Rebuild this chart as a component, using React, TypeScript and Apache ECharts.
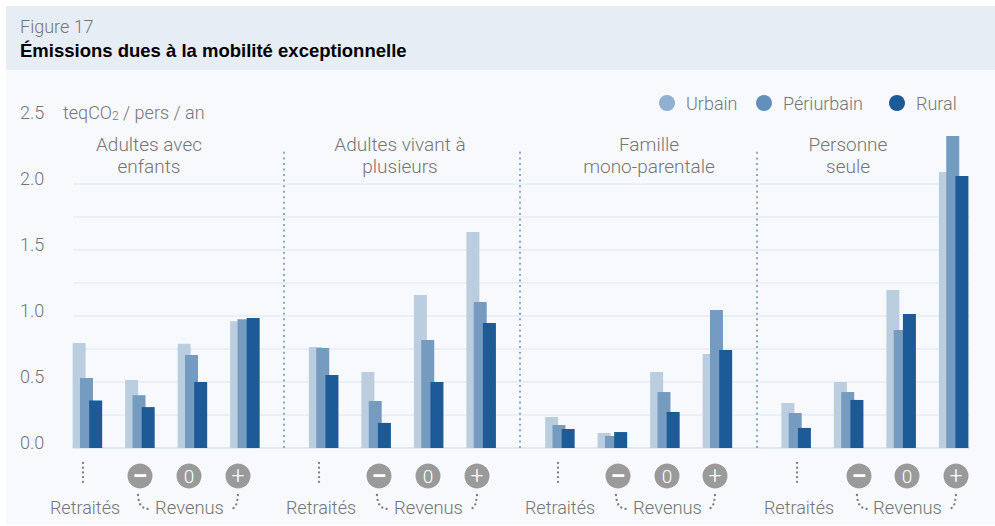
import React, { useEffect, useRef } from "react";
import * as echarts from "echarts";

const seriesNames = ["Urbain", "Périurbain", "Rural"];
const groupTitles = ["Adultes avec\nenfants", "Adultes vivant à\nplusieurs", "Famille\nmono-parentale", "Personne\nseule"];
const yTicks = ["0.0", "0.5", "1.0", "1.5", "2.0", "2.5"];
const gridValues = [0.25, 0.5, 0.75, 1, 1.25, 1.5, 1.75, 2];

// Slot of each bar cluster on the x scale: four clusters per household type
const slots = [0, 1, 2, 3, 4.5, 5.5, 6.5, 7.5, 9, 10, 11, 12, 13.5, 14.5, 15.5, 16.5];
const seriesShift = [-0.14, 0, 0.175];
const dividers = [3.76, 8.26, 12.76];

const urbain = [0.795, 0.515, 0.79, 0.96, 0.765, 0.576, 1.159, 1.636, 0.235, 0.114, 0.576, 0.712, 0.341, 0.5, 1.197, 2.09];
const periurbain = [0.53, 0.4, 0.705, 0.975, 0.757, 0.356, 0.818, 1.106, 0.174, 0.091, 0.424, 1.045, 0.265, 0.424, 0.894, 2.364];
const rural = [0.36, 0.31, 0.5, 0.985, 0.553, 0.19, 0.5, 0.947, 0.144, 0.121, 0.273, 0.742, 0.152, 0.364, 1.015, 2.06];

const barColors = ["#bacee0", "#769bc1", "#1c5b98"];
const legendColors = ["#8fb0d2", "#638fbb", "#1c5b98"];
const FONT = "Roboto, 'Liberation Sans', Arial, sans-serif";
const BOLD = "'Liberation Sans', Arial, sans-serif";
const WEIGHT = 300;
const GREY = "#757575";

const titleCenters = [149, 400, 649, 848];
const retraitesDots = [83, 319, 558, 797];
const retraitesText = [85, 321, 560, 799];
const revenusCenters = [189.5, 428.5, 667.5, 907.5];
const badgeCenters = [
  [140, 189, 238],
  [379, 428, 477],
  [618, 667, 715],
  [859, 907, 956],
];
const badgeSigns = ["–", "0", "+"];

function text(x: number, y: number, t: string, extra: any = {}) {
  return {
    type: "text",
    x,
    y,
    silent: true,
    style: {
      text: t,
      fontFamily: FONT,
      fontWeight: WEIGHT,
      fontSize: 18,
      fill: GREY,
      textAlign: "center",
      textVerticalAlign: "middle",
      ...extra,
    },
  };
}

const dotted = { stroke: "#808080", lineWidth: 2.3, lineDash: [0.1, 4.6], lineCap: "round", fill: "none" };

function buildGraphics() {
  const out: any[] = [
    { type: "rect", z: -10, silent: true, shape: { x: 6, y: 6, width: 989, height: 519 }, style: { fill: "#f7f9fd" } },
    { type: "rect", z: -9, silent: true, shape: { x: 6, y: 6, width: 989, height: 64 }, style: { fill: "#e7edf4" } },
    text(20, 26.5, "Figure 17", { textAlign: "left" }),
    text(20, 50, "Émissions dues à la mobilité exceptionnelle", {
      textAlign: "left",
      fontFamily: BOLD,
      fontWeight: "bold",
      fill: "#000000",
      fontSize: 18.5,
    }),
    {
      type: "text",
      x: 63,
      y: 112,
      silent: true,
      style: {
        text: "{a|teqCO}{b|2}{a| / pers / an}",
        textAlign: "left",
        textVerticalAlign: "middle",
        fontFamily: FONT,
        rich: {
          a: { fontFamily: FONT, fontWeight: WEIGHT, fontSize: 18, fill: GREY, color: GREY },
          b: { fontFamily: FONT, fontWeight: WEIGHT, fontSize: 12, fill: GREY, color: GREY, padding: [8, 0, 0, 0] },
        },
      },
    },
  ];
  groupTitles.forEach((t, g) => {
    out.push(text(titleCenters[g], 155, t, { lineHeight: 22, fontSize: 19 }));
    const rx = retraitesDots[g];
    out.push({ type: "line", silent: true, shape: { x1: rx, y1: 463, x2: rx, y2: 486 }, style: dotted });
    out.push(text(retraitesText[g], 507, "Retraités"));
    out.push(text(revenusCenters[g], 507, "Revenus", { fontSize: 18.4 }));
    badgeCenters[g].forEach((cx, i) => {
      out.push({ type: "circle", silent: true, shape: { cx, cy: 476, r: 12.5 }, style: { fill: "#9a9a9a" } });
      out.push(
        text(cx, 476, badgeSigns[i], {
          fill: "#ffffff",
          fontSize: i === 1 ? 19 : 23,
          fontWeight: i === 0 ? "bold" : WEIGHT,
        })
      );
    });
    const [l, , r] = badgeCenters[g];
    out.push({
      type: "bezierCurve",
      silent: true,
      shape: { x1: l - 2, y1: 495, cpx1: l - 1, cpy1: 505, cpx2: l + 1, cpy2: 509, x2: l + 11, y2: 509 },
      style: dotted,
    });
    out.push({
      type: "bezierCurve",
      silent: true,
      shape: { x1: r, y1: 495, cpx1: r - 1, cpy1: 504, cpx2: r - 2, cpy2: 508, x2: r - 7, y2: 509 },
      style: dotted,
    });
  });
  return out;
}

export default function App() {
  const ref = useRef<HTMLDivElement>(null);
  useEffect(() => {
    const chart = echarts.init(ref.current!, undefined, { renderer: "svg" });
    const values = [urbain, periurbain, rural];
    const legendLeft = [659, 756, 889];
    chart.setOption({
      animation: false,
      backgroundColor: "#ffffff",
      textStyle: { fontFamily: FONT },
      graphic: { elements: buildGraphics() },
      grid: { left: 73, right: 26, top: 118, bottom: 78, containLabel: false },
      legend: seriesNames.map((name, i) => ({
        left: legendLeft[i],
        top: 94,
        padding: 0,
        icon: "circle",
        itemWidth: 16,
        itemHeight: 16,
        selectedMode: false,
        data: [{ name, itemStyle: { color: legendColors[i] } }],
        textStyle: { fontFamily: FONT, fontWeight: WEIGHT, fontSize: 18, color: GREY, padding: [0, 0, 0, 6] },
      })),
      xAxis: {
        type: "value",
        min: -0.257,
        max: 16.81,
        axisLine: { show: true, onZero: true, lineStyle: { color: "#d8e3f0", width: 1.5 } },
        axisTick: { show: false },
        axisLabel: { show: false },
        splitLine: { show: false },
      },
      yAxis: {
        type: "value",
        min: 0,
        max: 2.5,
        interval: 0.5,
        axisLine: { show: false },
        axisTick: { show: false },
        splitLine: { show: false },
        axisLabel: {
          align: "left",
          verticalAlign: "bottom",
          lineHeight: 11,
          margin: 53,
          fontFamily: FONT,
          fontWeight: WEIGHT,
          fontSize: 18,
          color: GREY,
          formatter: (_: number, i: number) => yTicks[i],
        },
      },
      series: seriesNames.map((name, i) => ({
        name,
        type: "bar",
        barWidth: 13,
        barGap: "-100%",
        z: 2 + i,
        itemStyle: { color: barColors[i] },
        data: slots.map((s, k) => [s + seriesShift[i], values[i][k]]),
        ...(i === 0
          ? {
              markLine: {
                silent: true,
                z: 1,
                symbol: "none",
                animation: false,
                label: { show: false },
                data: [
                  ...gridValues.map((v) => ({ yAxis: v, lineStyle: { color: "#e7edf4", width: 1.5, type: "solid" as const } })),
                  ...dividers.map((d) => [
                    { coord: [d, 0], lineStyle: { color: "#86a9cf", width: 2, type: [2, 3.55] as any } },
                    { coord: [d, 2.25] },
                  ]),
                ],
              },
            }
          : {}),
      })),
    });
    return () => chart.dispose();
  }, []);
  return <div ref={ref} style={{ position: "fixed", left: 0, top: 0, width: 995, height: 526 }} />;
}
